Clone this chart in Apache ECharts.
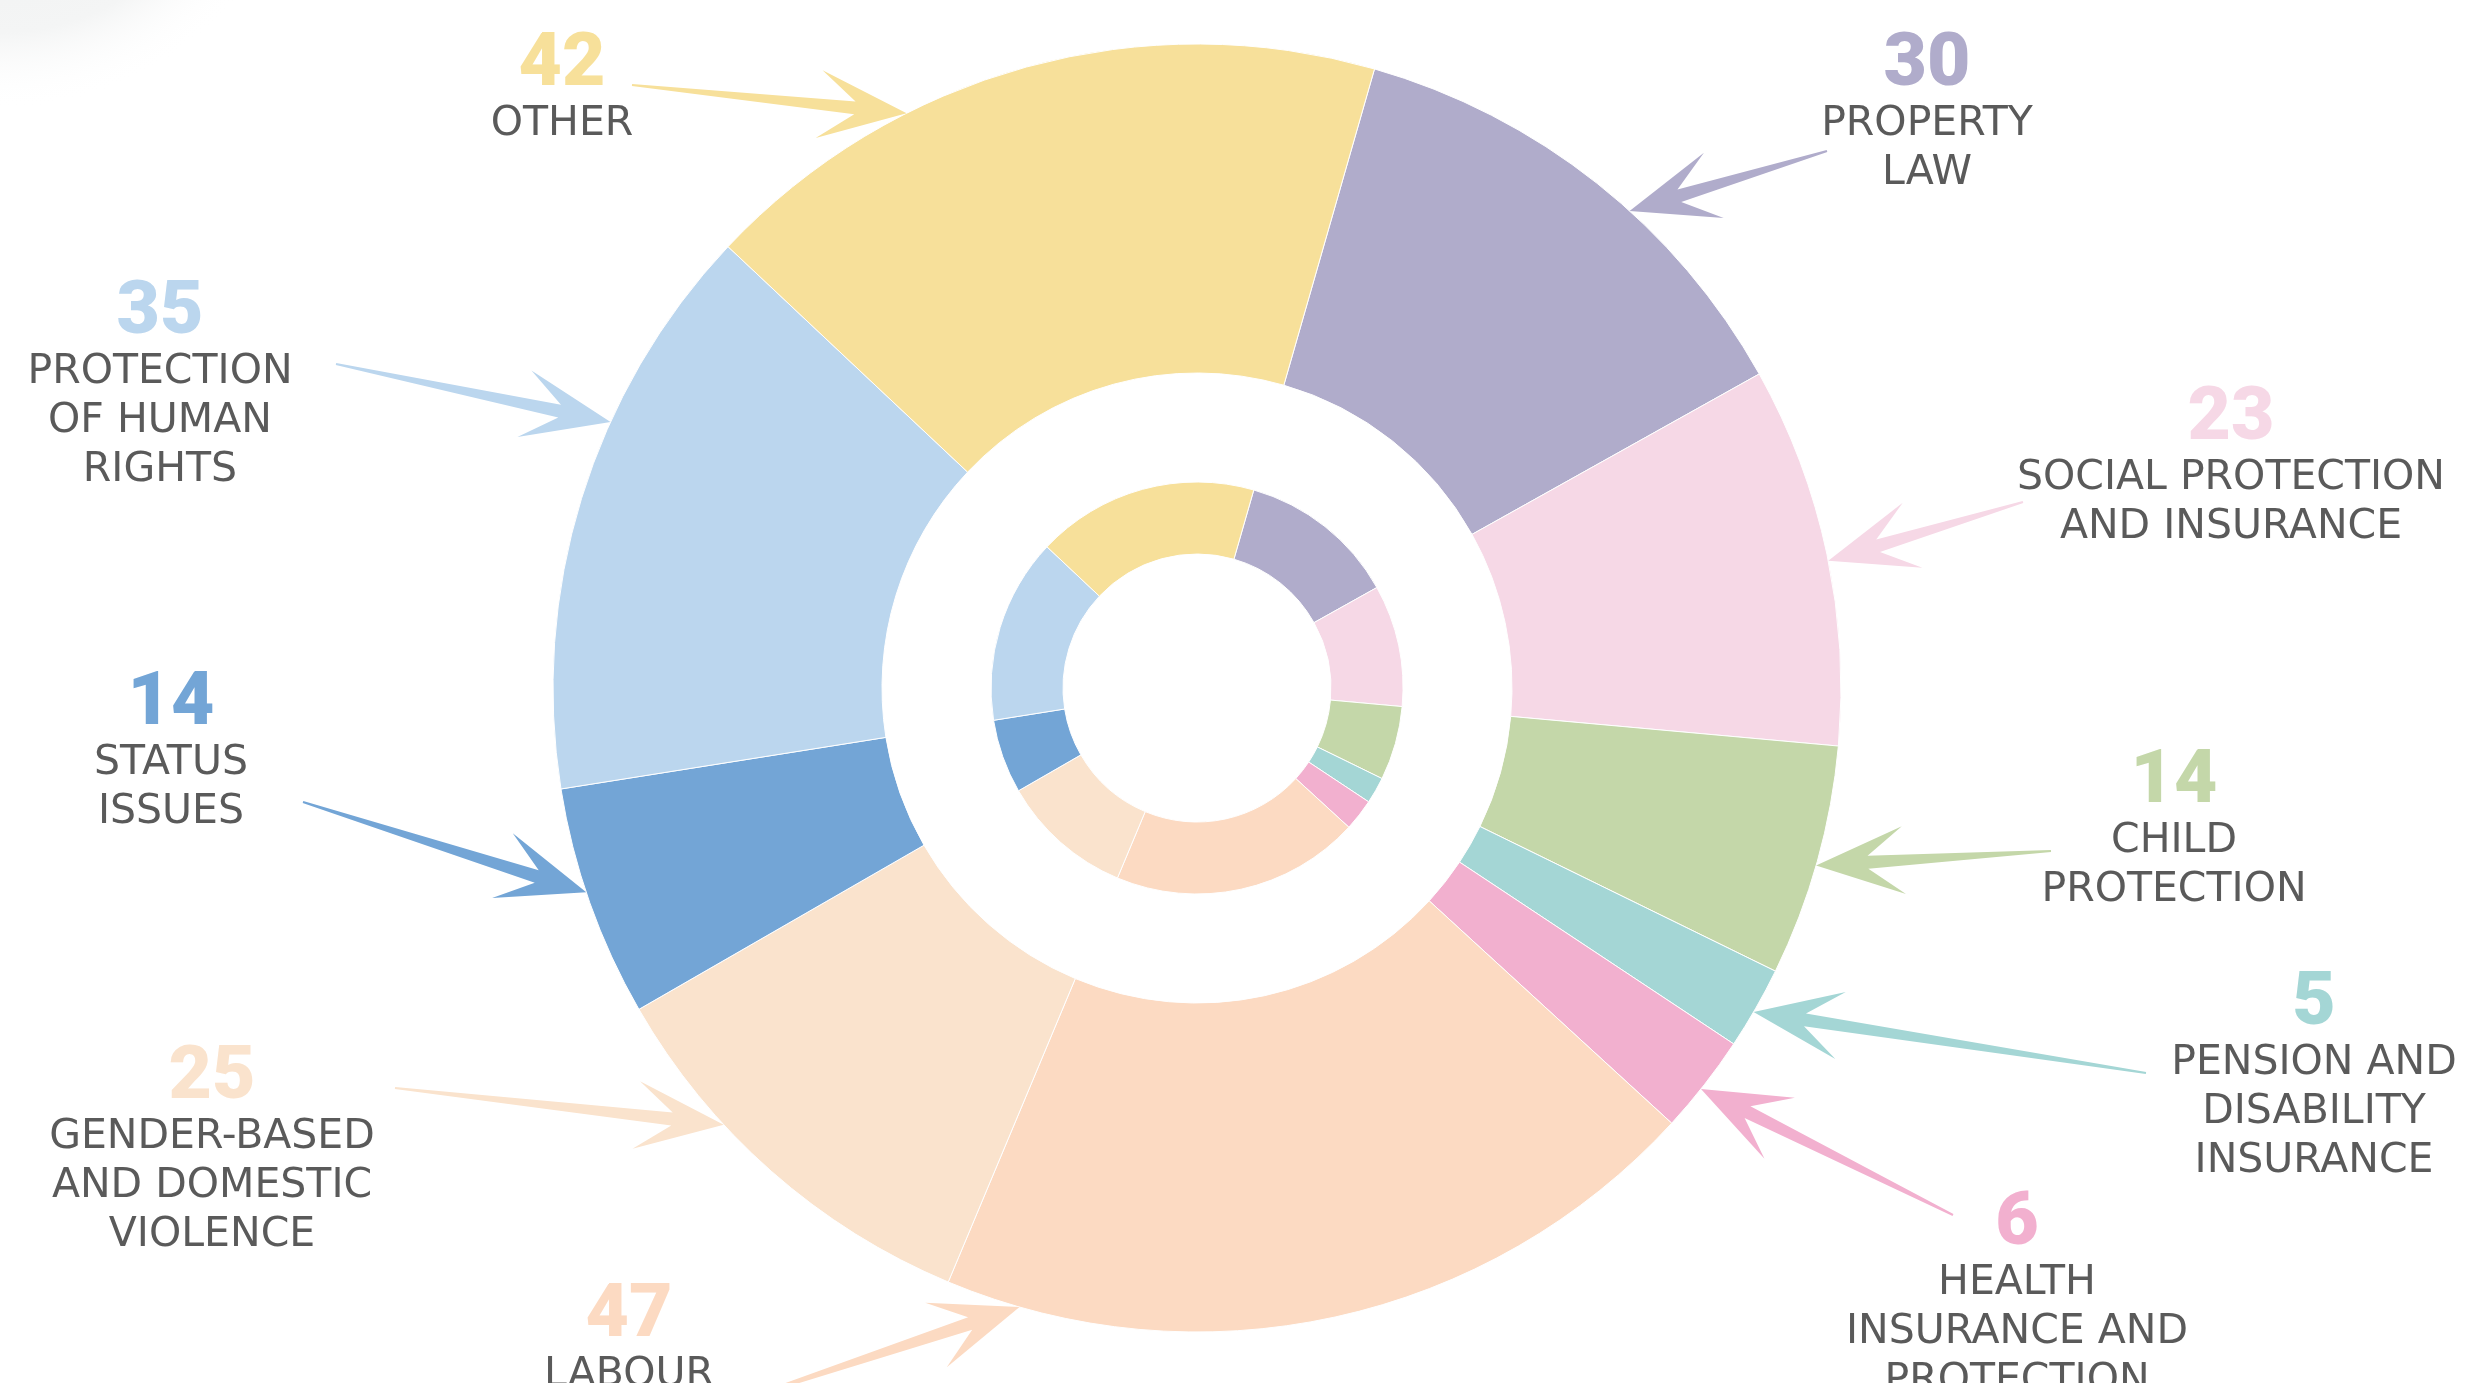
<!DOCTYPE html>
<html lang="en" style="height: 100%">
<head>
  <meta charset="utf-8">
</head>
<body style="height: 100%; margin: 0; background: #fff">
  <div id="container" style="height: 100%"></div>

  <script type="text/javascript" src="https://fastly.jsdelivr.net/npm/echarts@6/dist/echarts.min.js"></script>
  <script type="text/javascript">
    // categories clockwise from 12 o'clock (label text, line breaks as drawn)
    const categories = [
      'PROPERTY\nLAW',
      'SOCIAL PROTECTION\nAND INSURANCE',
      'CHILD\nPROTECTION',
      'PENSION AND\nDISABILITY\nINSURANCE',
      'HEALTH\nINSURANCE AND\nPROTECTION',
      'LABOUR',
      'GENDER-BASED\nAND DOMESTIC\nVIOLENCE',
      'STATUS\nISSUES',
      'PROTECTION\nOF HUMAN\nRIGHTS',
      'OTHER'
    ];
    const values = [30, 23, 14, 5, 6, 47, 25, 14, 35, 42];
    const colors = ['#b0accb', '#f6d8e6', '#c4d7a9', '#a4d6d5', '#f2b0cf',
                    '#fcdac2', '#fae3cd', '#73a5d6', '#bbd6ee', '#f7e09a'];

    // layout: label centre x and number y, arrow tail and tip angle (deg clockwise from top)
    const labelPos = [[1927, 66], [2231, 420], [2174, 783], [2314, 1005], [2017, 1225],
                      [629, 1317], [212, 1079], [171, 705], [160, 314], [562, 66]];
    const arrowTail = [[1827, 151], [2023, 502], [2051, 851], [2146, 1073], [1953, 1215],
                       [744, 1399], [395, 1088], [303, 802], [336, 364], [632, 85]];
    const arrowTipAngle = [42.2, 78.6, 106, 120.2, 128.5, 196, 227.3, 251.5, 294.4, 333.2];

    const cx = 1197, cy = 688, outerR = 644;

    var dom = document.getElementById('container');
    var myChart = echarts.init(dom, null, { renderer: 'canvas' });

    function arrowPoints(tail, tip) {
      const dx = tip[0] - tail[0], dy = tip[1] - tail[1];
      const len = Math.hypot(dx, dy);
      const ux = dx / len, uy = dy / len, nx = -uy, ny = ux;
      const p = (a, l) => [tail[0] + ux * a + nx * l, tail[1] + uy * a + ny * l];
      return [p(0, -1), p(len - 52, -6.5), p(len - 88, -34), p(len, 0),
              p(len - 88, 34), p(len - 52, 6.5), p(0, 1)];
    }

    const pieData = categories.map((c, i) => ({
      name: c, value: values[i], itemStyle: { color: colors[i] }
    }));

    const graphics = [{
      type: 'circle', z: -10, silent: true,
      shape: { cx: 0, cy: -200, r: 310 },
      style: {
        fill: new echarts.graphic.RadialGradient(0.5, 0.5, 0.5, [
          { offset: 0, color: '#eceeee' },
          { offset: 0.75, color: '#f4f5f5' },
          { offset: 1, color: 'rgba(255,255,255,0)' }
        ])
      }
    }];

    categories.forEach((c, i) => {
      const a = arrowTipAngle[i] * Math.PI / 180;
      const tip = [cx + outerR * Math.sin(a), cy - outerR * Math.cos(a)];
      graphics.push({
        type: 'polygon', z: 20, silent: true,
        shape: { points: arrowPoints(arrowTail[i], tip) },
        style: { fill: colors[i] }
      });
      graphics.push({
        type: 'text', z: 20, silent: true,
        x: labelPos[i][0], y: labelPos[i][1],
        style: {
          text: String(values[i]), fill: colors[i],
          font: '900 75px Roboto', align: 'center', verticalAlign: 'middle'
        }
      });
      graphics.push({
        type: 'text', z: 20, silent: true,
        x: labelPos[i][0], y: labelPos[i][1] + 58.5 - 24.4,
        style: {
          text: c, fill: '#5a5a5a', font: '41px "DejaVu Sans"',
          align: 'center', verticalAlign: 'top', lineHeight: 48.8
        }
      });
    });

    const ringCommon = {
      type: 'pie',
      center: [cx, cy],
      startAngle: 74,
      clockwise: true,
      silent: true,
      animation: false,
      label: { show: false },
      labelLine: { show: false },
      emphasis: { disabled: true },
      itemStyle: { borderColor: '#ffffff', borderWidth: 1 },
      data: pieData
    };

    var option = {
      backgroundColor: '#ffffff',
      animation: false,
      graphic: graphics,
      series: [
        Object.assign({}, ringCommon, { radius: [315, outerR] }),
        Object.assign({}, ringCommon, { radius: [134, 206] })
      ]
    };

    myChart.setOption(option);
    window.addEventListener('resize', myChart.resize);
  </script>
</body>
</html>
